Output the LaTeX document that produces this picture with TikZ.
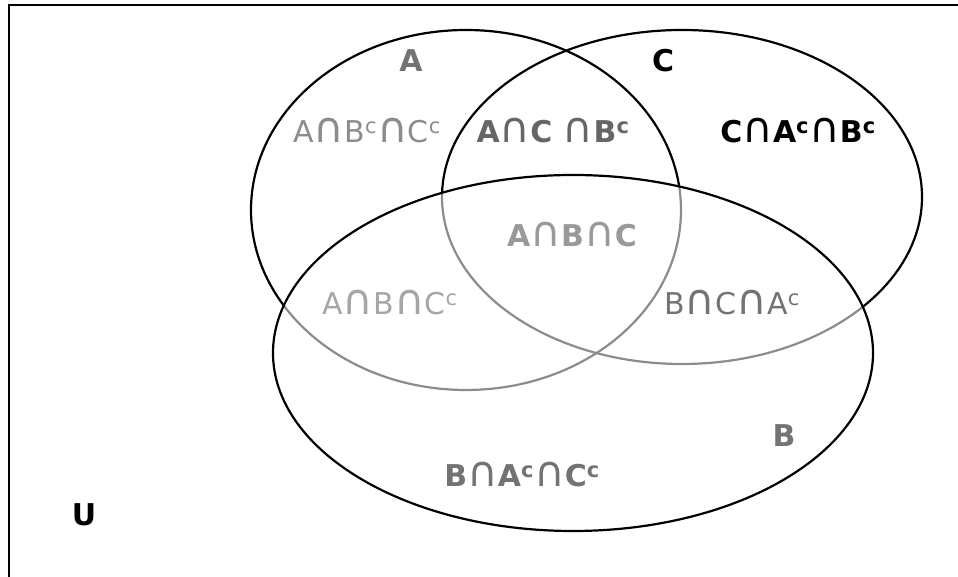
\documentclass[tikz,border=0pt]{standalone}
\usepackage{fontspec}
\setmainfont{DejaVu Sans}
\usepackage{xcolor}
\usepackage{tikz}
\newcommand{\cmp}{\textsuperscript{c}}
\newcommand{\cp}{\scalebox{1.4}{\mdseries ∩}}
\tikzset{
  setline/.style={line width=2.2pt, draw=black},
  region/.style={anchor=base, inner sep=0pt, text=#1, font=\fontsize{30}{36}\selectfont},
  region/.default=black,
  bregion/.style={anchor=base, inner sep=0pt, text=#1, font=\fontsize{30}{36}\selectfont\bfseries},
  bregion/.default=black,
}

\begin{document}
\begin{tikzpicture}[x=1pt,y=1pt]
\useasboundingbox (0,0) rectangle (958,577);
% universe frame
\coordinate (ubl) at (9,-5);
\coordinate (utl) at (9,571.5);
\coordinate (utr) at (965,571.5);
\draw[line width=2pt] (ubl) -- (utl) -- (utr);
% the three sets
\draw[setline] (466,367) ellipse [x radius=215, y radius=180];
\draw[setline] (682,380) ellipse [x radius=240, y radius=167];
\draw[setline, fill=white, fill opacity=0.55] (573,224) ellipse [x radius=300, y radius=178];
% set names
\node[bregion=black!55] (nA) at (411,505) {A};
\node[bregion] (nC) at (663,505) {C};
\node[bregion=black!55] (nB) at (784,130) {B};
\node[bregion] (nU) at (84,51) {U};
% regions
\node[region=black!45] (rAonly) at (367,434) {A\cp B\cmp\cp C\cmp};
\node[bregion=black!60] (rAC) at (553,434) {A\cp C \cp B\cmp};
\node[bregion] (rConly) at (798,434) {C\cp A\cmp\cp B\cmp};
\node[bregion=black!40] (rABC) at (572,330) {A\cp B\cp C};
\node[region=black!35] (rAB) at (390,262) {A\cp B\cp C\cmp};
\node[region=black!55] (rBC) at (732,262) {B\cp C\cp A\cmp};
\node[bregion=black!55] (rBonly) at (522,90) {B\cp A\cmp\cp C\cmp};
\end{tikzpicture}
\end{document}
